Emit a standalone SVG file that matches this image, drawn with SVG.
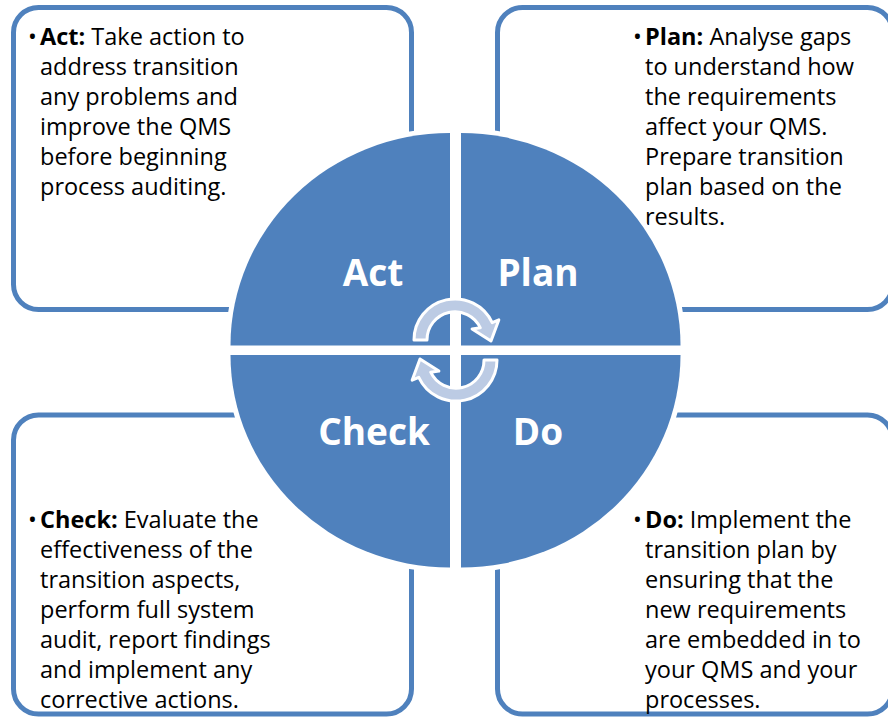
<svg xmlns="http://www.w3.org/2000/svg" width="888" height="719" viewBox="0 0 888 719">
<style>
.box{fill:#fff;stroke:#4f81bd;stroke-width:5}
.quad{fill:#4f81bd;stroke:#fff;stroke-width:10;paint-order:stroke fill}
.txt{font-family:"Open Sans","Noto Sans",sans-serif;font-size:23.5px;fill:#000}
.lbl{font-family:"Open Sans","Noto Sans",sans-serif;font-size:37px;font-weight:bold;fill:#fff;text-anchor:middle}
.arc{fill:#bccbe4;stroke:#fff;stroke-width:3;stroke-linejoin:round}
</style>
<rect width="888" height="719" fill="#fff"/>
<g id="box-act"><rect class="box" x="13.5" y="7.5" width="398" height="302" rx="25"/>
<text class="txt"><tspan x="28" y="45">•</tspan><tspan x="40" y="45" font-weight="bold">Act:</tspan><tspan> Take action to</tspan>
<tspan x="40" y="75">address transition</tspan>
<tspan x="40" y="105">any problems and</tspan>
<tspan x="40" y="135">improve the QMS</tspan>
<tspan x="40" y="165">before beginning</tspan>
<tspan x="40" y="195">process auditing.</tspan></text></g>
<g id="box-plan"><rect class="box" x="497.5" y="7.5" width="395" height="302" rx="25"/>
<text class="txt"><tspan x="633" y="45">•</tspan><tspan x="645" y="45" font-weight="bold">Plan:</tspan><tspan> Analyse gaps</tspan>
<tspan x="645" y="75">to understand how</tspan>
<tspan x="645" y="105">the requirements</tspan>
<tspan x="645" y="135">affect your QMS.</tspan>
<tspan x="645" y="165">Prepare transition</tspan>
<tspan x="645" y="195">plan based on the</tspan>
<tspan x="645" y="225">results.</tspan></text></g>
<g id="box-check"><rect class="box" x="13.5" y="415" width="398" height="299" rx="25"/>
<text class="txt"><tspan x="28" y="528">•</tspan><tspan x="40" y="528" font-weight="bold">Check:</tspan><tspan> Evaluate the</tspan>
<tspan x="40" y="558">effectiveness of the</tspan>
<tspan x="40" y="588">transition aspects,</tspan>
<tspan x="40" y="618">perform full system</tspan>
<tspan x="40" y="648">audit, report findings</tspan>
<tspan x="40" y="678">and implement any</tspan>
<tspan x="40" y="708">corrective actions.</tspan></text></g>
<g id="box-do"><rect class="box" x="497.5" y="415" width="395" height="299" rx="25"/>
<text class="txt"><tspan x="633" y="528">•</tspan><tspan x="645" y="528" font-weight="bold">Do:</tspan><tspan> Implement the</tspan>
<tspan x="645" y="558">transition plan by</tspan>
<tspan x="645" y="588">ensuring that the</tspan>
<tspan x="645" y="618">new requirements</tspan>
<tspan x="645" y="648">are embedded in to</tspan>
<tspan x="645" y="678">your QMS and your</tspan>
<tspan x="645" y="708">processes.</tspan></text></g>
<g id="quad-act"><path class="quad" d="M450,345.5 L230.5,345.5 A219.5,212.5 0 0 1 450,133 Z"/><text class="lbl" x="373" y="286">Act</text></g>
<g id="quad-plan"><path class="quad" d="M461,345.5 L461,133 A219.5,212.5 0 0 1 680.5,345.5 Z"/><text class="lbl" x="538" y="286">Plan</text></g>
<g id="quad-check"><path class="quad" d="M450,355 L450,567.5 A219.5,212.5 0 0 1 230.5,355 Z"/><text class="lbl" x="374" y="445">Check</text></g>
<g id="quad-do"><path class="quad" d="M461,355 L680.5,355 A219.5,212.5 0 0 1 461,567.5 Z"/><text class="lbl" x="538" y="445">Do</text></g>
<g id="connectors">
<path id="arc-top" class="arc" d="M414,340 A41,41 0 0 1 492.2,322.7 L498.8,319.9 L491,341 L472.1,328.9 L480.3,327.8 A28,28 0 0 0 427,340 Z"/>
<use href="#arc-top" transform="rotate(180 455.5 350)"/>
</g>
</svg>
